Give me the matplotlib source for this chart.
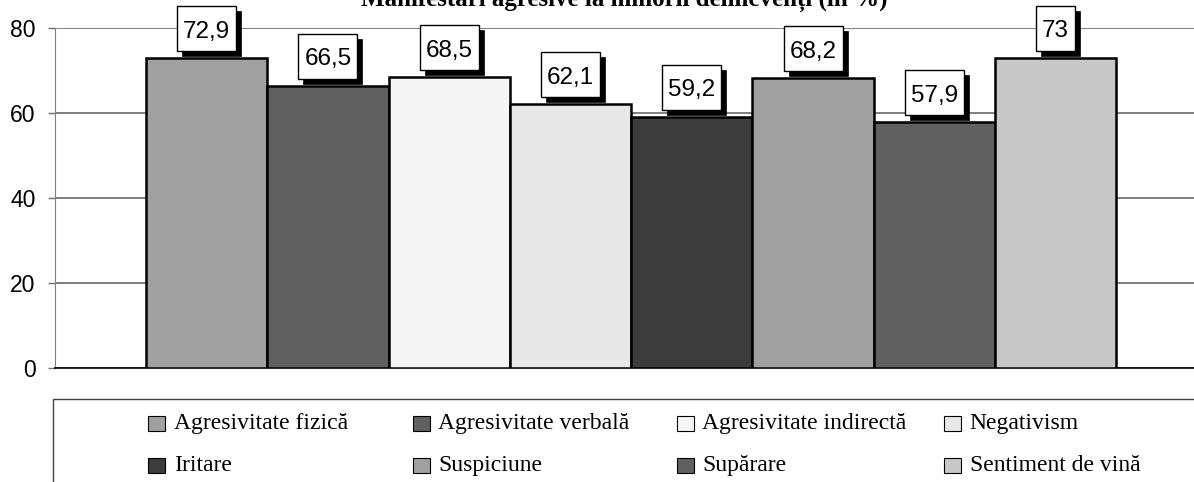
import matplotlib
matplotlib.use('Agg')
import matplotlib.pyplot as plt
from matplotlib.patches import Rectangle
from matplotlib.transforms import IdentityTransform

# data
categories = ['Agresivitate fizică', 'Agresivitate verbală', 'Agresivitate indirectă', 'Negativism',
              'Iritare', 'Suspiciune', 'Supărare', 'Sentiment de vină']
values = [72.9, 66.5, 68.5, 62.1, 59.2, 68.2, 57.9, 73.0]
value_labels = ['72,9', '66,5', '68,5', '62,1', '59,2', '68,2', '57,9', '73']
colors = ['#a0a0a0', '#606060', '#f5f5f5', '#e8e8e8', '#3c3c3c', '#a0a0a0', '#606060', '#c8c8c8']
yticks = [0, 20, 40, 60, 80]
title = 'Manifestări agresive la minorii delincvenți (în %)'

W, H = 1194, 482
fig = plt.figure(figsize=(W / 100, H / 100), dpi=100)

# axes placed in pixels: left 55, top 28, bottom 368
ax = fig.add_axes([55 / W, (H - 368) / H, (W - 55) / W, (368 - 28.3) / H])
ax.bar(range(len(values)), values, width=1.0, color=colors, edgecolor='black', linewidth=1.8, zorder=3)
ax.set_xlim(-1.25, 8.14)
ax.set_ylim(0, 80)
ax.set_yticks(yticks)
ax.set_xticks([])
ax.yaxis.grid(True, color='#6a6a6a', linewidth=1.2, zorder=0)
ax.tick_params(axis='y', direction='out', length=5, width=1, color='#707070', pad=9,
               labelsize=16.5)
for lab in ax.get_yticklabels():
    lab.set_fontfamily('Liberation Sans')
for s in ['top', 'right']:
    ax.spines[s].set_visible(False)
ax.spines['left'].set_color('#808080')
ax.spines['bottom'].set_color('black')
ax.spines['bottom'].set_linewidth(1.2)

# data labels: white box with black drop shadow
fig.canvas.draw()
r = fig.canvas.get_renderer()
for i, (v, lab) in enumerate(zip(values, value_labels)):
    x0, y0 = ax.transData.transform((i, v))
    t = ax.annotate(lab, (i, v), xytext=(0, 20.6 * 0.72), textcoords='offset points',
                    ha='center', va='baseline', fontsize=17.5, family='Liberation Sans',
                    zorder=8, annotation_clip=False)
    w = t.get_window_extent(r).width + 12
    bx, by = x0 - w / 2, y0 + 7
    ax.add_patch(Rectangle((bx + 5, by - 5), w, 45, transform=IdentityTransform(),
                           facecolor='black', edgecolor='black', lw=0.5, zorder=6, clip_on=False))
    ax.add_patch(Rectangle((bx, by), w, 45, transform=IdentityTransform(),
                           facecolor='white', edgecolor='black', lw=1, zorder=7, clip_on=False))

# title, clipped at the top like the source
fig.text(624 / W, 1 - 5.5 / H, title, ha='center', va='baseline', fontsize=18,
         fontweight='bold', family='Liberation Serif')

# legend frame and entries drawn by hand (fixed column widths)
fig.add_artist(Rectangle((53.3, -20), W, H - 399.3 + 20, transform=IdentityTransform(),
                         fill=False, edgecolor='#404040', lw=1))
col_x = [148, 412.5, 676.5, 943.7]
row_y = [H - 423.5, H - 465]
for k, (lab, c) in enumerate(zip(categories, colors)):
    x = col_x[k % 4]
    y = row_y[k // 4]
    fig.add_artist(Rectangle((x, y - 7.5), 17, 15, transform=IdentityTransform(),
                             facecolor=c, edgecolor='black', lw=0.8))
    fig.text((x + 26) / W, (y - 6) / H, lab, ha='left', va='baseline', fontsize=17,
             family='Liberation Serif')

fig.savefig('out.png', dpi=100)
